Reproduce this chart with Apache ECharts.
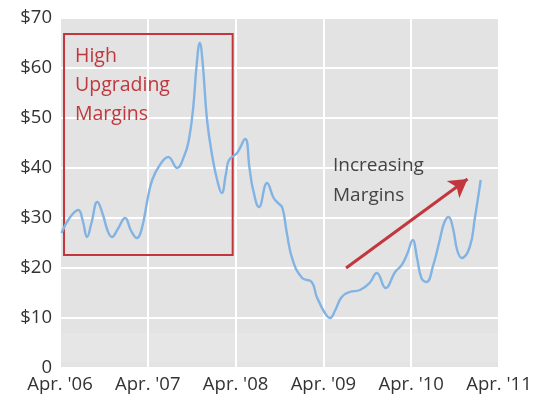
<!DOCTYPE html>
<html>
<head>
<meta charset="utf-8">
<style>
  html, body { margin: 0; padding: 0; background: #ffffff; }
  #chart { width: 538px; height: 399px; }
</style>
<script src="https://cdn.jsdelivr.net/npm/echarts@6/dist/echarts.min.js"></script>
</head>
<body>
<div id="chart"></div>
<script>
// Months elapsed since April 2006, and the margin in dollars at each point
const months = [0.2, 1.3, 2.5, 3.1, 3.7, 4.3, 5.1, 5.9, 6.5, 7.1, 7.9, 8.9, 9.7, 10.5, 11.2,
  12.0, 12.6, 13.6, 14.8, 16.0, 17.0, 17.6, 18.2, 18.7, 19.1, 19.5, 20.1, 20.9, 21.5, 22.1,
  22.7, 23.1, 24.2, 25.3, 25.9, 26.4, 27.2, 28.3, 29.2, 29.8, 30.4, 31.0, 31.8, 33.1, 34.4,
  35.1, 36.2, 36.9, 37.6, 38.5, 39.6, 41.0, 42.3, 43.3, 44.5, 45.8, 46.7, 47.5, 48.2, 48.8,
  49.4, 50.1, 51.0, 51.9, 52.5, 53.1, 53.7, 54.3, 54.9, 56.0, 56.7, 57.5];
const margins = [27, 30, 31.6, 29.5, 26.2, 29, 33.2, 30.5, 27.5, 26.2, 27.8, 30, 27.5, 26, 28,
  34, 37.6, 40.5, 42.2, 40, 42.5, 45.5, 52, 61, 65, 61, 49.6, 41.6, 37.5, 35,
  39, 41.6, 43, 45.8, 40, 35.6, 32.2, 37, 34, 33, 32, 27, 21.6, 18, 17.2,
  14.2, 11, 10, 11.5, 14.2, 15.2, 15.6, 17, 19, 16, 19.2, 20.6, 23, 25.6, 22,
  18, 17.2, 20.5, 25.6, 29, 30.2, 28, 23.5, 22, 24.2, 30, 37.6];

const xTickLabels = ["Apr. '06", "Apr. '07", "Apr. '08", "Apr. '09", "Apr. '10", "Apr. '11"];
const yTickLabels = ['0', '$10', '$20', '$30', '$40', '$50', '$60', '$70'];

// Highlighted period: [start month, end month, low $, high $]
const highPeriod = [0.55, 23.6, 22.6, 66.8];
const highLabel = ['High', 'Upgrading', 'Margins'];
// Trend arrow: [month, $] at tail and head
const trendArrow = [[39.1, 20], [55.7, 37.8]];
const trendLabel = ['Increasing', 'Margins'];

const FONT = '"Open Sans", "Noto Sans", sans-serif';
const RED = '#c2373d';

const chart = echarts.init(document.getElementById('chart'), null, { renderer: 'canvas' });

chart.setOption({
  animation: false,
  grid: {
    left: 60, right: 39, top: 18, bottom: 31,
    show: true, backgroundColor: '#e3e3e3', borderWidth: 0
  },
  xAxis: {
    type: 'value', min: 0, max: 60, interval: 12,
    axisLine: { show: false }, axisTick: { show: false },
    splitLine: { show: true, lineStyle: { color: '#ffffff', width: 2 } },
    axisLabel: {
      margin: 7, color: '#333333', fontFamily: FONT, fontSize: 18.5,
      formatter: v => xTickLabels[Math.round(v / 12)]
    }
  },
  yAxis: {
    type: 'value', min: 0, max: 70, interval: 10,
    axisLine: { show: false }, axisTick: { show: false },
    splitLine: { show: true, lineStyle: { color: '#ffffff', width: 2 } },
    axisLabel: {
      margin: 8, color: '#333333', fontFamily: FONT, fontSize: 18.5,
      formatter: v => yTickLabels[Math.round(v / 10)]
    }
  },
  series: [{
    type: 'line',
    data: months.map((m, i) => [m, margins[i]]),
    smooth: 0.45,
    showSymbol: false,
    lineStyle: { color: '#82b3e3', width: 2.4 },
    z: 3,
    markArea: {
      silent: true,
      data: [
        [
          { coord: [0, 1.2], itemStyle: { color: 'rgba(255,255,255,0.12)', borderWidth: 0 } },
          { coord: [60, 7] }
        ],
        [
          { coord: [highPeriod[0], highPeriod[3]],
            itemStyle: { color: 'rgba(0,0,0,0)', borderColor: RED, borderWidth: 2 } },
          { coord: [highPeriod[1], highPeriod[2]] }
        ]
      ]
    },
    markLine: {
      silent: true,
      symbol: ['none', 'arrow'],
      symbolSize: [16, 18],
      label: { show: false },
      lineStyle: { color: RED, width: 3, type: 'solid' },
      data: [[
        { coord: trendArrow[0] },
        { coord: trendArrow[1] }
      ]]
    }
  }],
  graphic: [
    {
      type: 'text', left: 75, top: 42, z: 10,
      style: {
        text: highLabel.join('\n'), fill: RED,
        font: '19.5px ' + FONT, lineHeight: 29
      }
    },
    {
      type: 'text', left: 333, top: 151, z: 10,
      style: {
        text: trendLabel.join('\n'), fill: '#444444',
        font: '19px ' + FONT, lineHeight: 30, align: 'center'
      }
    }
  ]
});
</script>
</body>
</html>
